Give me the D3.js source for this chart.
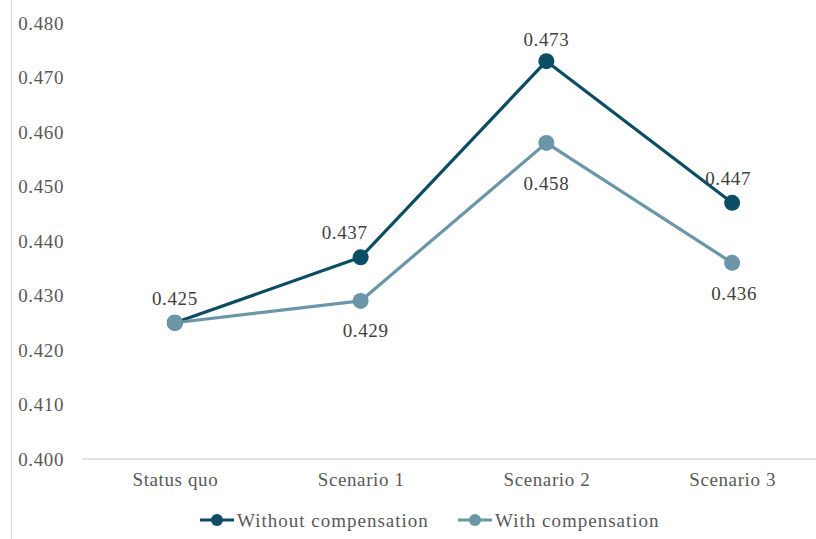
<!DOCTYPE html>
<html>
<head>
<meta charset="utf-8">
<script src="https://cdn.jsdelivr.net/npm/d3@7/dist/d3.min.js"></script>
<style>
  html, body { margin: 0; padding: 0; background: #fff; }
  svg { display: block; }
  text { font-family: "Liberation Serif", "DejaVu Serif", serif; letter-spacing: 0.6px; }
</style>
</head>
<body>
<svg id="chart" width="816" height="539"></svg>
<script>
// Chart data
const categories = ["Status quo", "Scenario 1", "Scenario 2", "Scenario 3"];
const withoutComp = [0.425, 0.437, 0.473, 0.447];
const withComp = [0.425, 0.429, 0.458, 0.436];
const seriesNames = ["Without compensation", "With compensation"];
const yTicks = [0.400, 0.410, 0.420, 0.430, 0.440, 0.450, 0.460, 0.470, 0.480];

const colors = ["#0b4d63", "#6a96a8"];

const W = 816, H = 539;
const svg = d3.select("#chart");

const x = d3.scalePoint().domain(categories).range([82, 825]).padding(0.5);
const y = d3.scaleLinear().domain([0.400, 0.480]).range([459, 23]);

// left border line
svg.append("line")
  .attr("x1", 11.5).attr("x2", 11.5).attr("y1", 0).attr("y2", H)
  .attr("stroke", "#d9d9d9").attr("stroke-width", 1);

// y axis labels
const yAxis = d3.axisLeft(y).tickValues(yTicks).tickFormat(d3.format(".3f")).tickSize(0).tickPadding(0);
const gy = svg.append("g").attr("transform", "translate(64,0)").call(yAxis);
gy.select(".domain").remove();
gy.selectAll("text").attr("fill", "#595959").style("font-size", "19px")
  .style("font-family", "'Liberation Serif', serif");

// category axis with baseline
const xAxis = d3.axisBottom(x).tickSize(0).tickPadding(14);
const gx = svg.append("g").attr("transform", `translate(0,${y(0.400)})`).call(xAxis);
gx.select(".domain").attr("stroke", "#d9d9d9").attr("stroke-width", 1.3).attr("d", "M82,0H816");
gx.selectAll("text").attr("fill", "#595959").style("font-size", "19px")
  .style("font-family", "'Liberation Serif', serif");

const line = d3.line().x((d, i) => x(categories[i])).y(d => y(d));
const series = [withoutComp, withComp];

// lines first, then markers, light series drawn last
[0, 1].forEach(s => {
  svg.append("path").datum(series[s])
    .attr("d", line).attr("fill", "none")
    .attr("stroke", colors[s]).attr("stroke-width", 3.2)
    .attr("stroke-linejoin", "round");
});
[0, 1].forEach(s => {
  svg.selectAll(null).data(series[s]).enter().append("circle")
    .attr("cx", (d, i) => x(categories[i])).attr("cy", d => y(d))
    .attr("r", 8).attr("fill", colors[s]);
});

// data labels: dark series above, light series below
const labelOffsets = [
  [[0, -24], [-16, -25], [0, -22], [-4, -24]],
  [null, [5, 30], [0, 41], [2, 31]]
];
[0, 1].forEach(s => {
  series[s].forEach((v, i) => {
    const off = labelOffsets[s][i];
    if (!off) return;
    svg.append("text")
      .attr("x", x(categories[i]) + off[0])
      .attr("y", y(v) + off[1])
      .attr("text-anchor", "middle")
      .attr("dominant-baseline", "central")
      .attr("fill", "#404040")
      .style("font-size", "19px")
      .text(d3.format(".3f")(v));
  });
});

// legend
const legendItems = [
  { x: 200, name: seriesNames[0], c: colors[0] },
  { x: 458, name: seriesNames[1], c: colors[1] }
];
const ly = 520;
legendItems.forEach(it => {
  svg.append("line").attr("x1", it.x).attr("x2", it.x + 34)
    .attr("y1", ly).attr("y2", ly).attr("stroke", it.c).attr("stroke-width", 3.2);
  svg.append("circle").attr("cx", it.x + 17).attr("cy", ly).attr("r", 6).attr("fill", it.c);
  svg.append("text").attr("x", it.x + 37).attr("y", ly)
    .attr("dominant-baseline", "central").attr("fill", "#595959")
    .style("font-size", "19px").style("letter-spacing", "1px").text(it.name);
});
</script>
</body>
</html>
